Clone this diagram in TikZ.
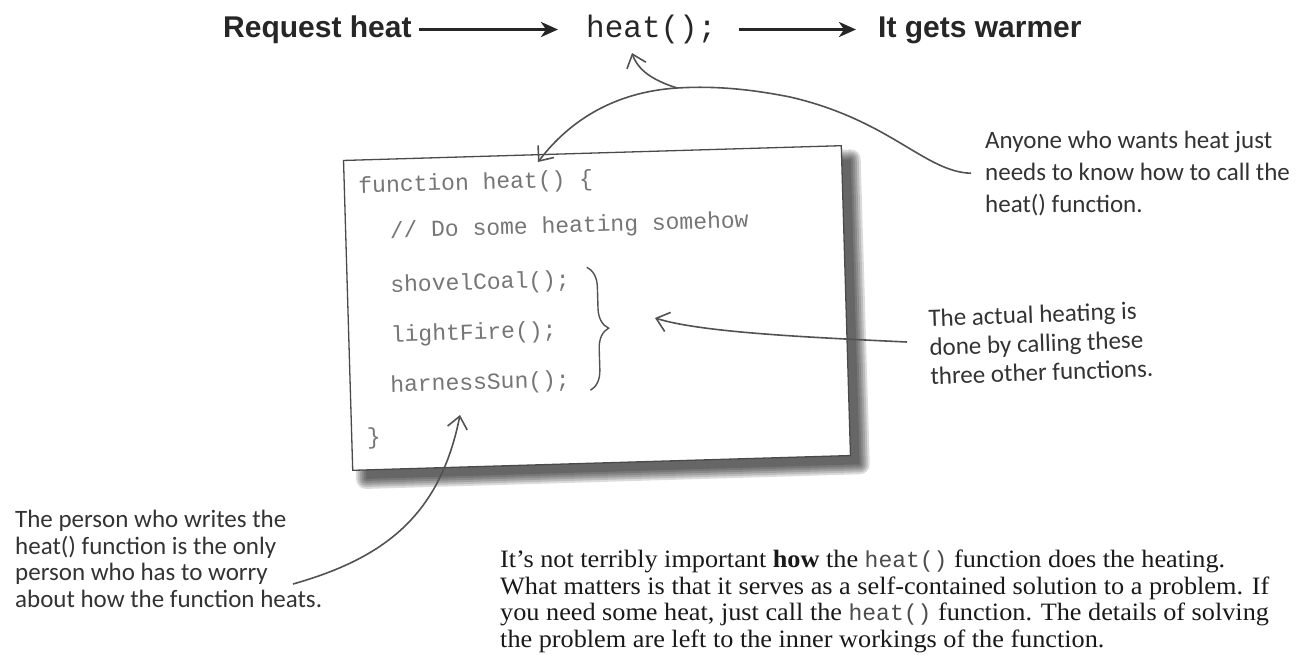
\documentclass[tikz,border=0pt]{standalone}
\usepackage{fontspec}
\setmainfont{Liberation Serif}
\setmonofont{Liberation Mono}
\newfontfamily\parafont{Liberation Serif}[FakeStretch=1.05]
\newfontfamily\hdrfont{Liberation Sans}
\newfontfamily\handfont{Carlito}
\usetikzlibrary{arrows.meta,decorations.pathreplacing}
\definecolor{codegray}{HTML}{767676}
\definecolor{ink}{HTML}{333333}
\definecolor{boxline}{HTML}{4A4A4A}
\newcommand\pcode[1]{{\ttfamily\fontsize{23}{26.5}\selectfont\color{black!70}#1}}
\begin{document}
\begin{tikzpicture}[x=1pt,y=-1pt,
  hdr/.style={font=\hdrfont\bfseries\fontsize{30}{32}\selectfont, text=black!85, inner sep=0pt, text height=21pt, text depth=6pt, anchor=base west},
  hcode/.style={font=\ttfamily\fontsize{31}{33}\selectfont, text=black!85, inner sep=0pt, text height=21pt, text depth=6pt, anchor=base west},
  hdrarrow/.style={line width=3pt, black!85, -{Stealth[length=17pt,width=15pt,inset=5pt]}},
  code/.style={font=\ttfamily\fontsize{23}{25}\selectfont, text=codegray, inner sep=0pt, anchor=base west, transform shape},
  note/.style={text=ink, align=left, inner sep=0pt, anchor=north west},
  pointer/.style={draw=ink!85, line width=1.6pt, -{Straight Barb[length=12pt,width=20pt]}},
  shadowlayer/.style={fill=black, opacity=0.14}
]
\useasboundingbox (0,0) rectangle (1304,654);

% header
\node[hdr] (req) at (223,37) {Request heat};
\node[hcode] (hcall) at (586,37) {heat();};
\node[hdr] (warm) at (878,37) {It gets warmer};
\draw[hdrarrow, shorten <=7pt, shorten >=28pt] (req.east) -- (hcall.west);
\draw[hdrarrow, shorten <=22pt, shorten >=22pt] (hcall.east) -- (warm.west);

% code box
\begin{scope}[shift={(597,308)}, rotate=1.7]
  \foreach \e in {0,2,4,6,8,10}
    \fill[shadowlayer, rounded corners=\e pt] (-236-\e,-141-\e) rectangle (258+\e,164+\e);
  \node[draw=boxline, line width=1.3pt, fill=white, minimum width=498pt, minimum height=310pt, inner sep=0pt, transform shape] (box) at (0,0) {};
  \node[code] (l1) at (-235,-122) {function heat() \{};
  \node[code] (l2) at (-205,-76) {// Do some heating somehow};
  \node[code] (l3) at (-206,-22) {shovelCoal();};
  \node[code] (l4) at (-207,28) {lightFire();};
  \node[code] (l5) at (-209,78) {harnessSun();};
  \node[code] (l6) at (-234,130) {\}};
  \draw[decorate, decoration={brace, amplitude=20pt}, line width=1.4pt, draw=ink!85] (-9,-41) -- (-9,82);
\end{scope}

% notes
\node[note, font=\handfont\fontsize{25}{32}\selectfont] (ntop) at (985,131)
  {Anyone who wants heat just\\needs to know how to call the\\heat() function.};
\node[note, font=\handfont\fontsize{25}{29}\selectfont, rotate=2] (nmid) at (928,309)
  {The actual heating is\\done by calling these\\three other functions.};
\node[note, font=\handfont\fontsize{25}{26.5}\selectfont] (nleft) at (15,510)
  {The person who writes the\\heat() function is the only\\person who has to worry\\about how the function heats.};

% paragraph
\node[anchor=north west, inner sep=0pt, align=left, font=\parafont\fontsize{25}{26.5}\selectfont, text=black!90] (para) at (500,550)
  {It’s not terribly important \textbf{how} the \pcode{heat()} function does the heating.\\
   What matters is that it serves as a self-contained solution to a problem. If\\
   you need some heat, just call the \pcode{heat()} function. The details of solving\\
   the problem are left to the inner workings of the function.};

% connector end points
\coordinate (boxtip) at (538,162);
\coordinate (fork) at (677,88);
\coordinate (hcalltip) at (632,53);
\coordinate (bracetip) at (655,318);
\coordinate (midtail) at (907,342);
\coordinate (lefttail) at (293,584);
\coordinate (harnesstip) at (460,415);

\draw[pointer, shorten <=14pt] (ntop.west) .. controls (925,172) and (890,120) .. (790,97)
   .. controls (745,88) and (710,86) .. (fork) .. controls (615,92) and (570,120) .. (boxtip);
\draw[pointer] (fork) .. controls (652,80) and (638,70) .. (hcalltip);
\draw[pointer] (midtail) .. controls (800,337) and (700,332) .. (bracetip);
\draw[pointer] (lefttail) .. controls (385,558) and (440,515) .. (harnesstip);
\end{tikzpicture}
\end{document}
